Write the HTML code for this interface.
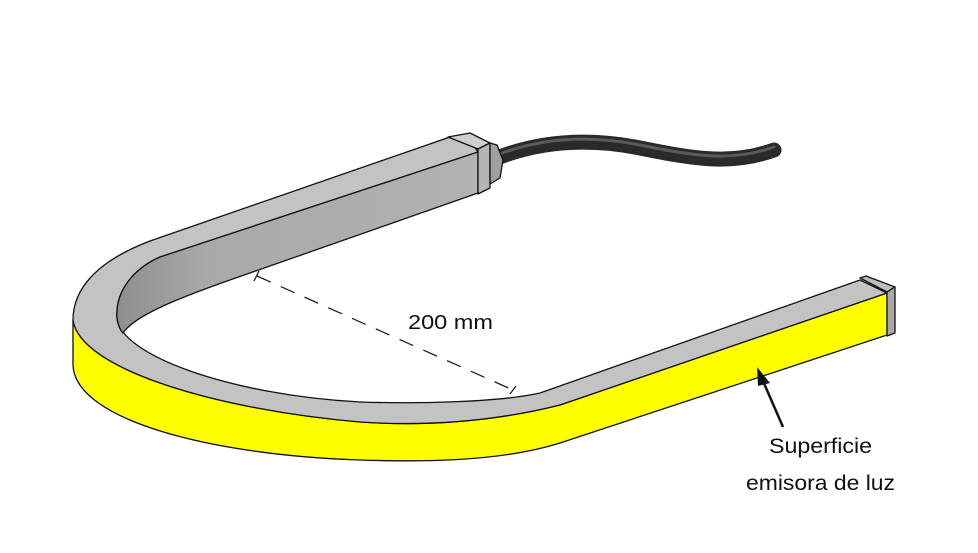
<!DOCTYPE html>
<html><head><meta charset="utf-8"><style>
html,body{margin:0;padding:0;background:#fff;}
svg{display:block;}
text{font-family:"Liberation Sans","DejaVu Sans",sans-serif;fill:#111;}
</style></head><body>
<svg width="978" height="553" viewBox="0 0 978 553" xmlns="http://www.w3.org/2000/svg">
<defs>
<linearGradient id="wall" x1="0" y1="0" x2="1" y2="0">
<stop offset="0" stop-color="#8e8e8e"/><stop offset="0.25" stop-color="#a9a9a9"/><stop offset="1" stop-color="#b2b2b2"/>
</linearGradient>
</defs>
<g stroke="#111" stroke-width="1.3" stroke-linejoin="round">
<!-- cable -->
<path d="M492,160 C540,140 590,138 640,148 C690,158 730,166 774,150" fill="none" stroke="#2a2a2a" stroke-width="15" stroke-linecap="round"/>
<path d="M492,157 C540,137 590,135 640,145 C690,155 730,163 774,147" fill="none" stroke="#5a5a5a" stroke-width="3" stroke-linecap="round"/>
<!-- yellow face -->
<path d="M73,320 C80,370 220,410 360,422 C450,428 520,415 560,405 L887,293 L887,335 L560,443 C500,462 420,462 360,460 C210,455 75,420 73,365 Z" fill="#ffff00"/>
<!-- top face -->
<path d="M450,137 L150,241 C95,262 73,290 73,320 C80,370 220,410 360,422 C450,428 520,415 560,405 L887,293 L860,280 L540,393 C500,402 420,404 360,402 C230,395 120,355 117,318 C115,290 135,268 160,257 L478,152 L470,140 Z" fill="#c3c3c3"/>
<!-- inner wall -->
<path d="M478,152 L160,257 C135,268 115,290 117,318 C118,325 120,330 123,333 C135,315 180,297 250,273 L478,193 Z" fill="url(#wall)"/>
<!-- collar at back arm end -->
<path d="M448,137 L470,133 L490,143 L478,149 Z" fill="#cfcfcf"/>
<path d="M478,149 L490,143 L490,188 L478,194 Z" fill="#b5b5b5"/>
<path d="M490,143 L497,145 L503,160 L500,178 L490,184 Z" fill="#a0a0a0"/>
<!-- right end cap -->
<path d="M860,278 L866,276 L895,287 L887,292 Z" fill="#bdbdbd"/>
<path d="M887,292 L895,287 L895,333 L887,336 Z" fill="#a8a8a8"/>
</g>
<!-- dashed dimension line -->
<g stroke="#222" stroke-width="1.3" fill="none">
<line x1="257" y1="276" x2="513" y2="390" stroke-dasharray="15,11"/>
<line x1="254" y1="281" x2="259" y2="271"/>
<line x1="510" y1="394" x2="516" y2="386"/>
</g>
<text x="408" y="329" font-size="20" textLength="85" lengthAdjust="spacingAndGlyphs">200 mm</text>
<!-- arrow -->
<line x1="783" y1="427" x2="763" y2="381" stroke="#111" stroke-width="2.5"/>
<polygon points="757,367 770,383 758,386" fill="#111"/>
<text x="769" y="453" font-size="21" textLength="103" lengthAdjust="spacingAndGlyphs">Superficie</text>
<text x="746" y="490" font-size="21" textLength="149" lengthAdjust="spacingAndGlyphs">emisora de luz</text>
</svg>
</body></html>
